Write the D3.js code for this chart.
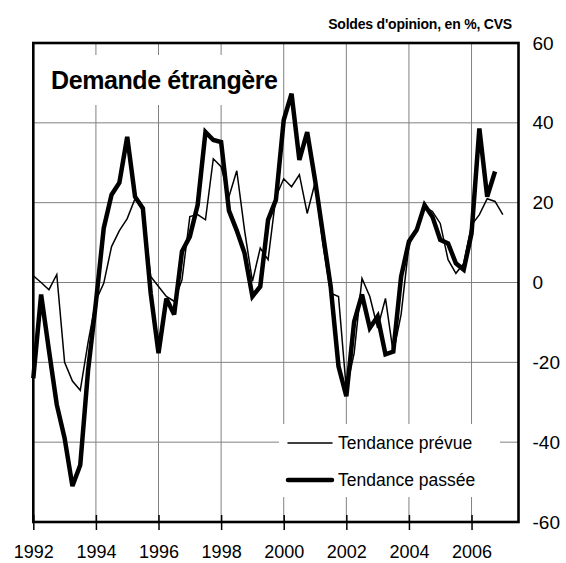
<!DOCTYPE html>
<html>
<head>
<meta charset="utf-8">
<script src="https://cdn.jsdelivr.net/npm/d3@7"></script>
<style>
  body { margin: 0; background: #fff; }
  svg { font-family: "Liberation Sans", Arial, sans-serif; display: block; }
</style>
</head>
<body>
<div class="chart-wrapper"></div>
<script>
// quarterly points, 1992 T1 -> 2007 T1
const quarters = [
  "1992T1","1992T2","1992T3","1992T4", "1993T1","1993T2","1993T3","1993T4",
  "1994T1","1994T2","1994T3","1994T4", "1995T1","1995T2","1995T3","1995T4",
  "1996T1","1996T2","1996T3","1996T4", "1997T1","1997T2","1997T3","1997T4",
  "1998T1","1998T2","1998T3","1998T4", "1999T1","1999T2","1999T3","1999T4",
  "2000T1","2000T2","2000T3","2000T4", "2001T1","2001T2","2001T3","2001T4",
  "2002T1","2002T2","2002T3","2002T4", "2003T1","2003T2","2003T3","2003T4",
  "2004T1","2004T2","2004T3","2004T4", "2005T1","2005T2","2005T3","2005T4",
  "2006T1","2006T2","2006T3","2006T4", "2007T1"
];

const tendancePrevue = [
  1.7, 0, -1.8, 2,      -20, -24.7, -27, -15,
  -4.5, -0.2, 9, 13,    16, 21, 18, 1.5,
  -1, -3.5, -4.7, 0.7,  16.5, 17, 15.7, 31,
  29, 21.5, 28, 13,     0.3, 8.6, 5.7, 21.5,
  26, 24, 27, 17.3,     25, 9.8, -2.7, -3.5,
  -26.8, -17.7, 1, -3.5, -11.4, -4, -17.7, -8,
  9.4, 13.2, 19, 17.8,  14.8, 5.7, 2.3, 4.8,
  14.4, 17, 21, 20.3,   17
];

const tendancePassee = [
  -24, -3, -17, -30.6,  -39, -51, -45.7, -22,
  -5, 13.6, 22, 25,     36.5, 21.5, 18.6, -2.7,
  -17.7, -4, -8, 7.8,   11.5, 19.4, 37.7, 35.7,
  35.2, 18, 13, 7.3,    -3.5, -1, 15.7, 20.7,
  40.7, 47.3, 30.7, 37.7, 25.7, 12.3, -1, -21,
  -28.5, -9.8, -3, -11.4, -8.5, -18, -17.3, 1.5,
  10.3, 13.2, 19.4, 16.5, 10.7, 9.8, 4.8, 3.2,
  12.3, 38.6, 21.5, 27.8
];

const xTicks = [1992, 1994, 1996, 1998, 2000, 2002, 2004, 2006];
const yTicks = [-60, -40, -20, 0, 20, 40, 60];

const width = 566, height = 563;
const plotL = 33.3, plotR = 518.5, plotT = 43, plotB = 522;

const qToYear = q => +q.slice(0, 4) + (+q.slice(5) - 1) / 4;

let xScale = d3.scaleLinear()
  .domain([1992, 2007.5])
  .range([plotL, plotR]);

let yScale = d3.scaleLinear()
  .domain([-60, 60])
  .range([plotB, plotT]);

const svg = d3.select(".chart-wrapper").append("svg")
  .attr("width", width)
  .attr("height", height);

// grid
svg.append("g")
  .selectAll("line")
  .data(yTicks)
  .join("line")
  .attr("x1", plotL).attr("x2", plotR)
  .attr("y1", d => yScale(d)).attr("y2", d => yScale(d))
  .attr("stroke", "#808080")
  .attr("stroke-width", 1);

svg.append("g")
  .selectAll("line")
  .data(xTicks)
  .join("line")
  .attr("x1", d => xScale(d)).attr("x2", d => xScale(d))
  .attr("y1", plotT).attr("y2", plotB)
  .attr("stroke", "#808080")
  .attr("stroke-width", 1);

// title box
svg.append("rect")
  .attr("x", plotL + 3).attr("y", 55)
  .attr("width", 244).attr("height", 50)
  .attr("fill", "#fff");

svg.append("text")
  .attr("x", 51).attr("y", 89)
  .attr("font-size", 25)
  .attr("font-weight", "bold")
  .attr("letter-spacing", -0.4)
  .text("Demande étrangère");

svg.append("text")
  .attr("x", 512).attr("y", 29)
  .attr("text-anchor", "end")
  .attr("font-size", 14)
  .attr("font-weight", "bold")
  .attr("letter-spacing", -0.2)
  .text("Soldes d'opinion, en %, CVS");

// legend box
svg.append("rect")
  .attr("x", 279).attr("y", 424)
  .attr("width", 221).attr("height", 73)
  .attr("fill", "#fff");

const legend = [
  { label: "Tendance prévue", w: 1.5, y: 443 },
  { label: "Tendance passée", w: 4.5, y: 480 }
];

legend.map(l => {
  svg.append("line")
    .attr("x1", 288).attr("x2", 332)
    .attr("y1", l.y).attr("y2", l.y)
    .attr("stroke", "#000")
    .attr("stroke-linecap", "round")
    .attr("stroke-width", l.w);
  svg.append("text")
    .attr("x", 338).attr("y", l.y + 6)
    .attr("font-size", 17.5)
    .text(l.label);
});

// series
let line = d3.line()
  .x(d => xScale(qToYear(d.q)))
  .y(d => yScale(d.v));

const prevue = tendancePrevue.map((v, i) => ({ q: quarters[i], v: v }));
const passee = tendancePassee.map((v, i) => ({ q: quarters[i], v: v }));

svg.append("path")
  .datum(prevue)
  .attr("d", line)
  .attr("fill", "none")
  .attr("stroke", "#000")
  .attr("stroke-width", 1.5);

svg.append("path")
  .datum(passee)
  .attr("d", line)
  .attr("fill", "none")
  .attr("stroke", "#000")
  .attr("stroke-width", 4.5)
  .attr("stroke-linejoin", "miter")
  .attr("stroke-miterlimit", 3);

// frame
svg.append("rect")
  .attr("x", plotL).attr("y", plotT)
  .attr("width", plotR - plotL).attr("height", plotB - plotT)
  .attr("fill", "none")
  .attr("stroke", "#000")
  .attr("stroke-width", 2.6);

// axes
const xAxis = svg.append("g")
  .attr("transform", "translate(0," + plotB + ")")
  .call(d3.axisBottom(xScale)
    .tickValues(xTicks)
    .tickSizeInner(8)
    .tickSizeOuter(0)
    .tickPadding(15)
    .tickFormat(d => d));

xAxis.selectAll(".tick line")
  .attr("y1", -7)
  .attr("stroke", "#000")
  .attr("stroke-width", 1.5);

xAxis.selectAll(".tick text")
  .attr("font-size", 18)
  .attr("font-family", "Liberation Sans, Arial, sans-serif")
  .attr("fill", "#000");

const yAxis = svg.append("g")
  .attr("transform", "translate(" + plotR + ",0)")
  .call(d3.axisRight(yScale)
    .tickValues(yTicks)
    .tickSize(0)
    .tickPadding(14)
    .tickFormat(d => d));

yAxis.selectAll(".tick text")
  .attr("font-size", 19)
  .attr("font-family", "Liberation Sans, Arial, sans-serif")
  .attr("fill", "#000");

svg.selectAll(".domain").remove();
</script>
</body>
</html>
